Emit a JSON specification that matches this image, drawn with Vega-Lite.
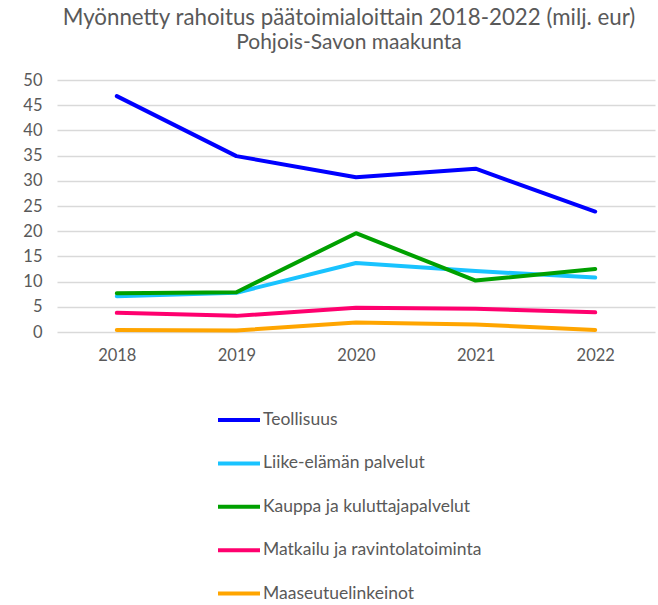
{
  "$schema": "https://vega.github.io/schema/vega-lite/v6.json",
  "width": 598,
  "height": 252,
  "autosize": {"type": "none"},
  "padding": {"left": 57, "top": 80, "right": 3, "bottom": 273},
  "background": "white",
  "title": {
    "text": "Myönnetty rahoitus päätoimialoittain 2018-2022 (milj. eur)",
    "subtitle": "Pohjois-Savon maakunta",
    "font": "Lato",
    "fontSize": 22.3,
    "fontWeight": "normal",
    "color": "#595959",
    "subtitleFont": "Lato",
    "subtitleFontSize": 21,
    "subtitleColor": "#595959",
    "subtitlePadding": 3,
    "anchor": "middle",
    "dx": -7,
    "offset": 19
  },
  "data": {
    "values": [
      {"vuosi": "2018", "toimiala": "Teollisuus", "arvo": 46.8},
      {"vuosi": "2019", "toimiala": "Teollisuus", "arvo": 34.9},
      {"vuosi": "2020", "toimiala": "Teollisuus", "arvo": 30.7},
      {"vuosi": "2021", "toimiala": "Teollisuus", "arvo": 32.4},
      {"vuosi": "2022", "toimiala": "Teollisuus", "arvo": 23.9},
      {"vuosi": "2018", "toimiala": "Liike-elämän palvelut", "arvo": 7.1},
      {"vuosi": "2019", "toimiala": "Liike-elämän palvelut", "arvo": 7.8},
      {"vuosi": "2020", "toimiala": "Liike-elämän palvelut", "arvo": 13.7},
      {"vuosi": "2021", "toimiala": "Liike-elämän palvelut", "arvo": 12.1},
      {"vuosi": "2022", "toimiala": "Liike-elämän palvelut", "arvo": 10.8},
      {"vuosi": "2018", "toimiala": "Kauppa ja kuluttajapalvelut", "arvo": 7.7},
      {"vuosi": "2019", "toimiala": "Kauppa ja kuluttajapalvelut", "arvo": 7.9},
      {"vuosi": "2020", "toimiala": "Kauppa ja kuluttajapalvelut", "arvo": 19.6},
      {"vuosi": "2021", "toimiala": "Kauppa ja kuluttajapalvelut", "arvo": 10.2},
      {"vuosi": "2022", "toimiala": "Kauppa ja kuluttajapalvelut", "arvo": 12.5},
      {"vuosi": "2018", "toimiala": "Matkailu ja ravintolatoiminta", "arvo": 3.8},
      {"vuosi": "2019", "toimiala": "Matkailu ja ravintolatoiminta", "arvo": 3.2},
      {"vuosi": "2020", "toimiala": "Matkailu ja ravintolatoiminta", "arvo": 4.8},
      {"vuosi": "2021", "toimiala": "Matkailu ja ravintolatoiminta", "arvo": 4.6},
      {"vuosi": "2022", "toimiala": "Matkailu ja ravintolatoiminta", "arvo": 3.9},
      {"vuosi": "2018", "toimiala": "Maaseutuelinkeinot", "arvo": 0.4},
      {"vuosi": "2019", "toimiala": "Maaseutuelinkeinot", "arvo": 0.3},
      {"vuosi": "2020", "toimiala": "Maaseutuelinkeinot", "arvo": 1.9},
      {"vuosi": "2021", "toimiala": "Maaseutuelinkeinot", "arvo": 1.5},
      {"vuosi": "2022", "toimiala": "Maaseutuelinkeinot", "arvo": 0.4}
    ]
  },
  "mark": {"type": "line", "strokeWidth": 4, "strokeCap": "round", "strokeJoin": "round"},
  "encoding": {
    "x": {
      "field": "vuosi",
      "type": "ordinal",
      "title": null,
      "scale": {"type": "point", "padding": 0.5},
      "axis": {
        "domain": false,
        "ticks": false,
        "grid": false,
        "labelAngle": 0,
        "labelFont": "Lato",
        "labelFontSize": 16.5,
        "labelColor": "#595959",
        "labelPadding": 15
      }
    },
    "y": {
      "field": "arvo",
      "type": "quantitative",
      "title": null,
      "scale": {"domain": [0, 50], "nice": false},
      "axis": {
        "values": [0, 5, 10, 15, 20, 25, 30, 35, 40, 45, 50],
        "domain": false,
        "ticks": false,
        "grid": true,
        "gridColor": "#d9d9d9",
        "gridWidth": 1.5,
        "labelFont": "Lato",
        "labelFontSize": 16.5,
        "labelColor": "#595959",
        "labelPadding": 15
      }
    },
    "color": {
      "field": "toimiala",
      "type": "nominal",
      "scale": {
        "domain": ["Teollisuus", "Liike-elämän palvelut", "Kauppa ja kuluttajapalvelut", "Matkailu ja ravintolatoiminta", "Maaseutuelinkeinot"],
        "range": ["#0000ff", "#19c3ff", "#00a000", "#ff006e", "#ffa500"]
      },
      "legend": {
        "title": null,
        "orient": "none",
        "legendX": 159,
        "legendY": 317,
        "direction": "vertical",
        "symbolType": "stroke",
        "symbolSize": 1764,
        "symbolStrokeWidth": 4,
        "labelOffset": 1,
        "labelFont": "Lato",
        "labelFontSize": 17.5,
        "labelColor": "#595959",
        "labelLimit": 0,
        "rowPadding": 11.4
      }
    }
  },
  "config": {"view": {"stroke": null}}
}
